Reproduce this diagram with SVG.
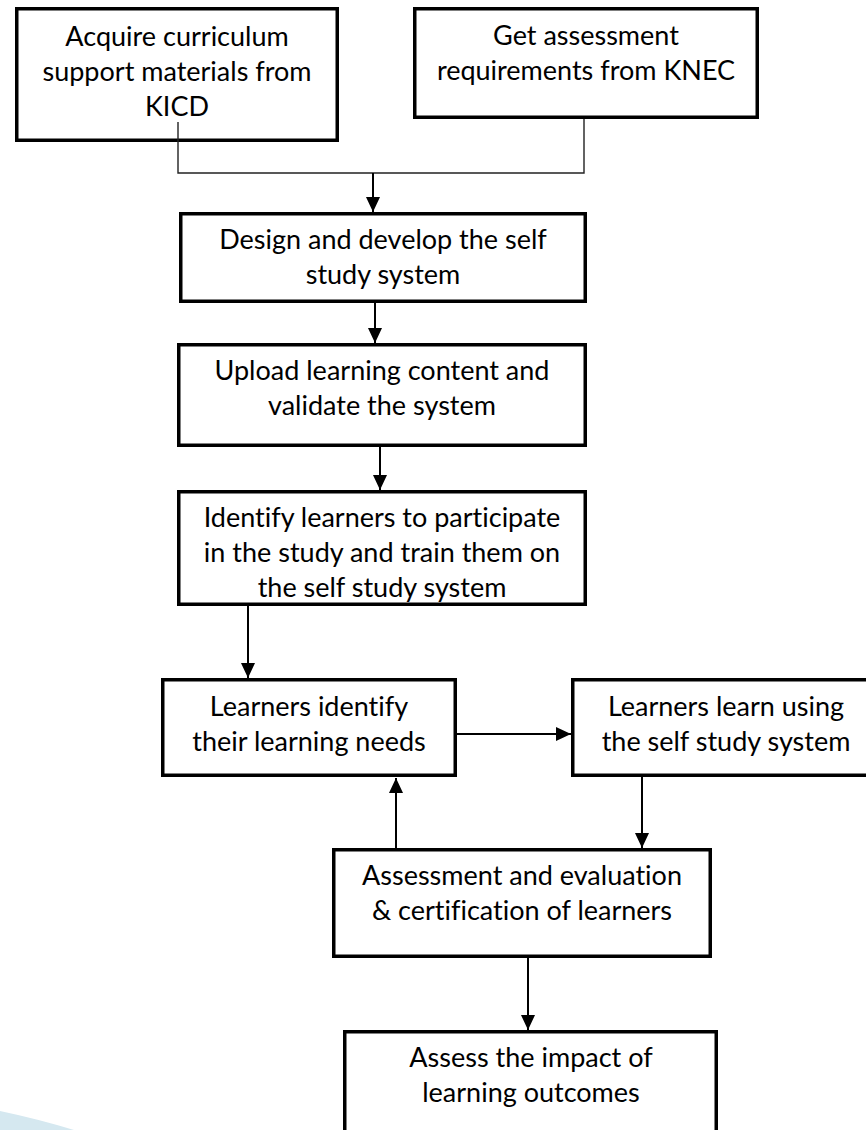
<svg xmlns="http://www.w3.org/2000/svg" width="866" height="1130" viewBox="0 0 866 1130">
  <defs>
    <marker id="ah" markerUnits="userSpaceOnUse" markerWidth="16" markerHeight="16" viewBox="0 0 16 14" refX="15" refY="7" orient="auto">
      <path d="M0,0 L15,7 L0,14 Z" fill="#000"/>
    </marker>
    <style>
      .box { fill: #fff; stroke: #000; stroke-width: 3.5; }
      .lbl { font-family: Lato, "Liberation Sans", sans-serif; font-size: 27px; fill: #000; text-anchor: middle; font-variant-ligatures: none; }
      .arr { stroke: #000; stroke-width: 2; fill: none; marker-end: url(#ah); }
      .thin { stroke: #222; stroke-width: 1.4; fill: none; }
    </style>
  </defs>
  <rect x="0" y="0" width="866" height="1130" fill="#fff"/>
  <path d="M0,1111 Q38,1119 74,1130 L0,1130 Z" fill="#d5e8f0"/>

  <g id="n1">
    <rect class="box" x="16.75" y="8.75" width="320.5" height="131.5"/>
    <text class="lbl" x="177" y="46">Acquire curriculum</text>
    <text class="lbl" x="177" y="81">support materials from</text>
    <text class="lbl" x="177" y="116">KICD</text>
  </g>
  <g id="n2">
    <rect class="box" x="414.75" y="8.75" width="342.5" height="108.5"/>
    <text class="lbl" x="586" y="45">Get assessment</text>
    <text class="lbl" x="586" y="80">requirements from KNEC</text>
  </g>
  <g id="n3">
    <rect class="box" x="180.75" y="213.75" width="404.5" height="87.5"/>
    <text class="lbl" x="383" y="249">Design and develop the self</text>
    <text class="lbl" x="383" y="284">study system</text>
  </g>
  <g id="n4">
    <rect class="box" x="178.75" y="344.75" width="406.5" height="100.5"/>
    <text class="lbl" x="382" y="380">Upload learning content and</text>
    <text class="lbl" x="382" y="415">validate the system</text>
  </g>
  <g id="n5">
    <rect class="box" x="178.75" y="491.75" width="406.5" height="112.5"/>
    <text class="lbl" x="382" y="527">Identify learners to participate</text>
    <text class="lbl" x="382" y="562">in the study and train them on</text>
    <text class="lbl" x="382" y="597">the self study system</text>
  </g>
  <g id="n6">
    <rect class="box" x="162.75" y="679.75" width="292.5" height="95.5"/>
    <text class="lbl" x="309" y="716">Learners identify</text>
    <text class="lbl" x="309" y="751">their learning needs</text>
  </g>
  <g id="n7">
    <rect class="box" x="572.75" y="679.75" width="310" height="95.5"/>
    <text class="lbl" x="726" y="716">Learners learn using</text>
    <text class="lbl" x="726" y="751">the self study system</text>
  </g>
  <g id="n8">
    <rect class="box" x="333.75" y="849.75" width="376.5" height="106.5"/>
    <text class="lbl" x="522" y="885">Assessment and evaluation</text>
    <text class="lbl" x="522" y="920">&amp; certification of learners</text>
  </g>
  <g id="n9">
    <rect class="box" x="344.75" y="1031.75" width="371.5" height="120"/>
    <text class="lbl" x="531" y="1067">Assess the impact of</text>
    <text class="lbl" x="531" y="1102">learning outcomes</text>
  </g>

  <g id="connectors">
    <polyline class="thin" points="178,122 178,173 584,173 584,119"/>
    <line class="arr" x1="373" y1="173" x2="373" y2="212"/>
    <line class="arr" x1="375" y1="303" x2="375" y2="343"/>
    <line class="arr" x1="380" y1="447" x2="380" y2="490"/>
    <line class="arr" x1="248" y1="606" x2="248" y2="678"/>
    <line class="arr" x1="457" y1="734" x2="571" y2="734"/>
    <line class="arr" x1="642" y1="777" x2="642" y2="848"/>
    <line class="arr" x1="396" y1="848" x2="396" y2="778"/>
    <line class="arr" x1="528" y1="958" x2="528" y2="1030"/>
  </g>
</svg>
